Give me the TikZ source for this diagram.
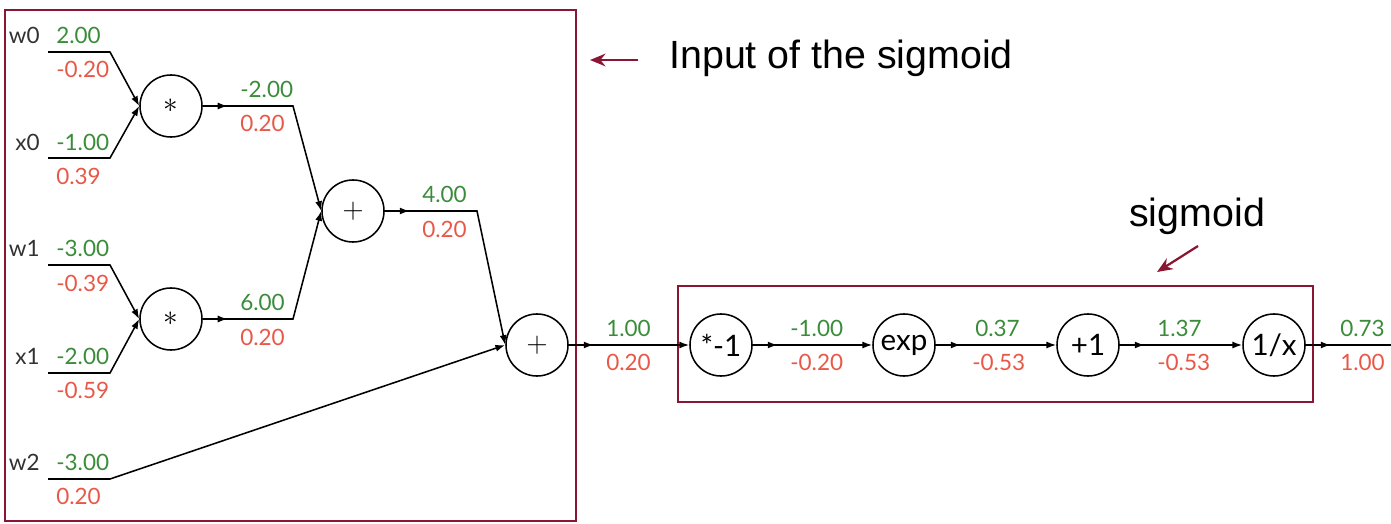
\documentclass[tikz,border=0pt]{standalone}
\usepackage{fontspec}
\setmainfont{Lato}
\newfontfamily\notefont{Liberation Sans}
\usetikzlibrary{arrows.meta,decorations.markings}

\definecolor{fwdgreen}{RGB}{58,140,58}
\definecolor{bwdred}{RGB}{232,88,72}
\definecolor{boxred}{RGB}{139,22,52}
\definecolor{namegray}{RGB}{50,50,50}

\tikzset{
  gate/.style={circle, draw, line width=1.1pt, minimum size=1.55cm, inner sep=0pt, font=\fontsize{21}{21}\selectfont},
  wire/.style={line width=1.1pt},
  tip/.style={-{Latex[length=7pt,width=5pt]}},
  midarrow/.style={postaction={decorate}, decoration={markings, mark=at position 0.62cm with {\arrow{Latex[length=7pt,width=5pt]}}}},
  fwd/.style={anchor=west, inner sep=0pt, text=fwdgreen, font=\fontsize{16}{16}\selectfont},
  bwd/.style={anchor=west, inner sep=0pt, text=bwdred, font=\fontsize{16}{16}\selectfont},
  varname/.style={anchor=east, inner sep=0pt, text=namegray, font=\fontsize{16}{16}\selectfont},
  note/.style={anchor=base west, inner sep=0pt, font=\notefont\fontsize{28}{28}\selectfont},
  frame/.style={draw=boxred, line width=1.5pt},
}

\begin{document}
\begin{tikzpicture}[x=0.025cm, y=-0.025cm]
	\useasboundingbox (0,0) rectangle (1391,524);
	% frames and notes
	\draw[frame] (5,10) rectangle (576,521);
	\draw[frame] (678,286) rectangle (1313,402);
	\node[note] (inputnote) at (669,69) {Input of the sigmoid};
	\node[note] (sigmoidnote) at (1129,227) {sigmoid};
	\coordinate (inputtail) at (638,60);
	\coordinate (inputhead) at (590,60);
	\coordinate (sigtail) at (1198,246);
	\coordinate (sighead) at (1157,272);
	\draw[boxred, line width=1.6pt, -{Stealth[length=11pt,width=9pt]}] (inputtail) -- (inputhead);
	\draw[boxred, line width=1.6pt, -{Stealth[length=11pt,width=9pt]}] (sigtail) -- (sighead);
	%
	\node[gate] (mulA) at (171,106) {$\ast$};
	\node[gate] (mulB) at (171,319) {$\ast$};
	\node[gate] (addA) at (353,211) {$+$};
	\node[gate] (addB) at (537,345) {$+$};
	\node[gate] (neg) at (721,345) {*-1};
	\node[gate] (expo) at (904,345) {exp};
	\node[gate] (plus) at (1088,345) {+1};
	\node[gate] (inv) at (1274,345) {1/x};
	%
	\coordinate (w0a) at (48,52);   \coordinate (w0b) at (110,52);
	\coordinate (x0a) at (48,158);  \coordinate (x0b) at (110,158);
	\coordinate (w1a) at (48,265);  \coordinate (w1b) at (110,265);
	\coordinate (x1a) at (48,373);  \coordinate (x1b) at (110,373);
	\coordinate (w2a) at (48,479);  \coordinate (w2b) at (110,479);
	\coordinate (mulAb) at (293,106);
	\coordinate (mulBb) at (293,319);
	\coordinate (addAb) at (477,211);
	\coordinate (out) at (1391,345);
	%
	\draw[wire, tip] (w0a) -- (w0b) -- (mulA.west);
	\draw[wire, tip] (x0a) -- (x0b) -- (mulA.west);
	\draw[wire, tip] (w1a) -- (w1b) -- (mulB.west);
	\draw[wire, tip] (x1a) -- (x1b) -- (mulB.west);
	\draw[wire, tip] (w2a) -- (w2b) -- (addB.west);
	\draw[wire, tip, midarrow] (mulA.east) -- (mulAb) -- (addA.west);
	\draw[wire, tip, midarrow] (mulB.east) -- (mulBb) -- (addA.west);
	\draw[wire, tip, midarrow] (addA.east) -- (addAb) -- (addB.west);
	\draw[wire, tip, midarrow] (addB.east) -- (neg.west);
	\draw[wire, tip, midarrow] (neg.east) -- (expo.west);
	\draw[wire, tip, midarrow] (expo.east) -- (plus.west);
	\draw[wire, tip, midarrow] (plus.east) -- (inv.west);
	\draw[wire, midarrow] (inv.east) -- (out);
	%
	\node[varname] (w0) at (40,35) {w0};
	\node[varname] (x0) at (40,142) {x0};
	\node[varname] (w1) at (40,248) {w1};
	\node[varname] (x1) at (40,356) {x1};
	\node[varname] (w2) at (40,462) {w2};
	%
	\node[fwd] (w0f) at (56,35) {2.00};     \node[bwd] (w0g) at (56,69) {-0.20};
	\node[fwd] (x0f) at (56,142) {-1.00};   \node[bwd] (x0g) at (56,176) {0.39};
	\node[fwd] (w1f) at (56,248) {-3.00};   \node[bwd] (w1g) at (56,283) {-0.39};
	\node[fwd] (x1f) at (56,356) {-2.00};   \node[bwd] (x1g) at (56,390) {-0.59};
	\node[fwd] (w2f) at (56,462) {-3.00};   \node[bwd] (w2g) at (56,496) {0.20};
	\node[fwd] (mulAf) at (240,89) {-2.00}; \node[bwd] (mulAg) at (240,123) {0.20};
	\node[fwd] (mulBf) at (240,302) {6.00}; \node[bwd] (mulBg) at (240,337) {0.20};
	\node[fwd] (addAf) at (422,194) {4.00}; \node[bwd] (addAg) at (422,229) {0.20};
	\node[fwd] (addBf) at (606,328) {1.00}; \node[bwd] (addBg) at (606,362) {0.20};
	\node[fwd] (negf) at (790,328) {-1.00}; \node[bwd] (negg) at (790,362) {-0.20};
	\node[fwd] (expof) at (975,328) {0.37}; \node[bwd] (expog) at (972,362) {-0.53};
	\node[fwd] (plusf) at (1157,328) {1.37}; \node[bwd] (plusg) at (1157,362) {-0.53};
	\node[fwd] (invf) at (1340,328) {0.73}; \node[bwd] (invg) at (1340,362) {1.00};
\end{tikzpicture}
\end{document}
